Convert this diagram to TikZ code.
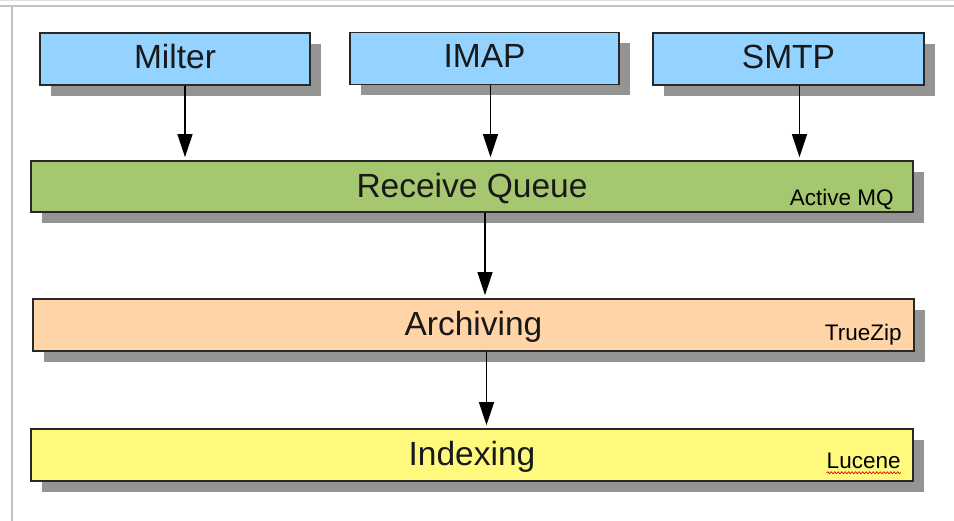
\documentclass[tikz,border=0pt]{standalone}
\usepackage{fontspec}
\setmainfont{Liberation Sans}
\usetikzlibrary{arrows.meta,shadows,decorations.pathmorphing}
\definecolor{boxblue}{RGB}{148,210,255}
\definecolor{boxgreen}{RGB}{165,199,112}
\definecolor{boxpeach}{RGB}{255,213,168}
\definecolor{boxyellow}{RGB}{255,250,125}
\definecolor{shadowgray}{RGB}{148,148,148}
\definecolor{edgegray}{RGB}{40,40,40}
\definecolor{framegray}{RGB}{195,195,195}
\tikzset{
  blk/.style={draw=edgegray, line width=1.5pt, inner sep=0pt,
    general shadow={fill=shadowgray, shadow xshift=11pt, shadow yshift=-11pt},
    font=\fontsize{33.5}{38}\selectfont, text=black!90},
  topbox/.style={blk, fill=boxblue, minimum width=270pt, minimum height=52pt,
    text height=19pt, text depth=0pt},
  widebox/.style={blk, minimum width=882pt, minimum height=51pt,
    text height=22pt, text depth=0pt},
  tag/.style={anchor=base east, inner sep=0pt, font=\fontsize{22.5}{26}\selectfont},
  arr/.style={line width=1.1pt, -{Triangle[length=23pt,width=15pt]}, shorten >=3pt},
  frame/.style={framegray, line width=1.6pt}
}
\begin{document}
\begin{tikzpicture}[x=1pt,y=-1pt]
\useasboundingbox (0,0) rectangle (954,521);
% frame
\coordinate (ftl) at (12,6);
\coordinate (ftr) at (954,6);
\coordinate (fl0) at (0,6);
\coordinate (fbl) at (12,521);
\coordinate (fa) at (0,1);
\coordinate (fb) at (954,1);
\draw[frame] (fl0) -- (ftr);
\draw[frame] (ftl) -- (fbl);
\draw[framegray!50, line width=1pt] (fa) -- (fb);
% top boxes
\node[topbox] (milter) at (175,59) {Milter};
\node[topbox, minimum width=269pt] (imap) at (484.5,58.5) {IMAP};
\node[topbox, minimum width=271pt] (smtp) at (788.5,59) {SMTP};
% wide boxes
\node[widebox, fill=boxgreen] (rq) at (472,186.5) {Receive Queue};
\node[widebox, fill=boxpeach, minimum width=881pt, minimum height=52pt] (arch) at (473.5,325) {Archiving};
\node[widebox, fill=boxyellow, minimum height=52pt] (idx) at (472,455) {Indexing};
% tags
\node[tag] (tmq) at ([xshift=-20pt,yshift=7pt]rq.south east) {Active MQ};
\node[tag] (tzip) at ([xshift=-13pt,yshift=11pt]arch.south east) {TrueZip};
\node[tag] (tluc) at ([xshift=-13pt,yshift=13pt]idx.south east) {Lucene};
\draw[red!85!black, line width=0.7pt, decorate,
  decoration={snake, amplitude=0.9pt, segment length=3.5pt}]
  ([yshift=-4pt]tluc.base west) -- ([yshift=-4pt]tluc.base east);
% arrows
\draw[arr] ([xshift=10pt]milter.south) -- ([xshift=10pt]milter.south |- rq.north);
\draw[arr] ([xshift=6pt]imap.south) -- ([xshift=6pt]imap.south |- rq.north);
\draw[arr] ([xshift=11pt]smtp.south) -- ([xshift=11pt]smtp.south |- rq.north);
\draw[arr] ([xshift=13pt]rq.south) -- ([xshift=13pt]rq.south |- arch.north);
\draw[arr] ([xshift=13pt]arch.south) -- ([xshift=13pt]arch.south |- idx.north);
\end{tikzpicture}
\end{document}
